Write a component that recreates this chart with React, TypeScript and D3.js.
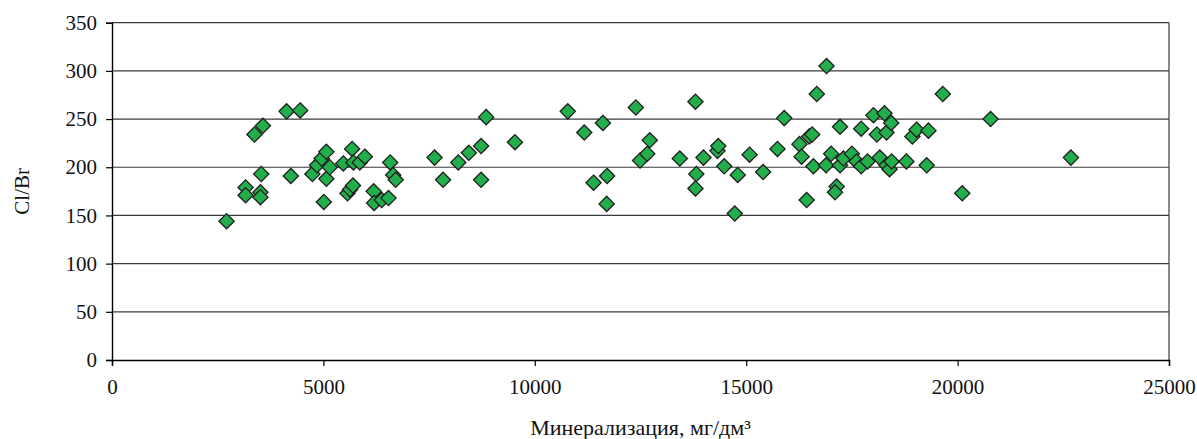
import { useEffect, useRef } from "react";
import * as d3 from "d3";

// Mineralization (mg/dm3) and Cl/Br ratio
const mineralization = [
  2710, 3160, 3160, 3370, 3510, 3510, 3530, 3570, 4130, 4230, 4450, 4740, 4850, 4960, 5010,
  5070, 5070, 5150, 5470, 5570, 5630, 5700, 5680, 5710, 5860, 5980, 6190, 6200, 6380, 6540,
  6580, 6650, 6710, 7630, 7830, 8190, 8440, 8730, 8730, 8850, 9530, 10780, 11170, 11390,
  11610, 11710, 11700, 12390, 12490, 12660, 12720, 13430, 13800, 13820, 13800, 13990, 14320,
  14340, 14480, 14800, 14730, 15080, 15400, 15740, 15900, 16260, 16310, 16430, 16490, 16560,
  16590, 16670, 16900, 16890, 17010, 17140, 17100, 17220, 17220, 17300, 17500, 17610, 17720,
  17720, 17870, 18010, 18090, 18160, 18270, 18320, 18320, 18390, 18440, 18430, 18790, 18930,
  19030, 19310, 19270, 19650, 20110, 20780, 22680,
];
const clBr = [
  144, 179, 171, 234, 174, 169, 193, 243, 258, 191, 259, 193, 202, 209, 164,
  216, 188, 200, 204, 173, 177, 181, 219, 205, 205, 211, 175, 163, 166, 168,
  205, 192, 187, 210, 187, 205, 215, 222, 187, 252, 226, 258, 236, 184,
  246, 191, 162, 262, 207, 214, 228, 209, 268, 193, 178, 210, 217,
  222, 201, 192, 152, 213, 195, 219, 251, 224, 211, 166, 232, 234,
  201, 276, 305, 202, 214, 180, 174, 242, 202, 209, 214, 206, 240,
  201, 206, 254, 234, 210, 256, 236, 202, 198, 206, 246, 206, 232,
  239, 238, 202, 276, 173, 250, 210,
];

const xTicks = [0, 5000, 10000, 15000, 20000, 25000];
const yTicks = [0, 50, 100, 150, 200, 250, 300, 350];

const xTitle = "Минерализация, мг/дм³";
const yTitle = "Cl/Br";

export default function App() {
  const svgRef = useRef<SVGSVGElement | null>(null);

  const width = 1197;
  const height = 439;
  const margin = { top: 22.7, right: 28, bottom: 79, left: 112 };
  const innerWidth = width - margin.left - margin.right;
  const innerHeight = height - margin.top - margin.bottom;

  useEffect(() => {
    const svgEl = svgRef.current;
    if (!svgEl) return;

    const root = d3.select(svgEl);
    root.selectAll("*").remove();

    const g = root
      .append("g")
      .attr("transform", `translate(${margin.left},${margin.top})`);

    const xScale = d3.scaleLinear().domain([0, 25000]).range([0, innerWidth]);
    const yScale = d3.scaleLinear().domain([0, 350]).range([innerHeight, 0]);

    const font = "'Liberation Serif', 'Times New Roman', serif";

    // Grid
    g.append("g")
      .selectAll("line")
      .data(yTicks.filter((t) => t > 0))
      .join("line")
      .attr("x1", 0)
      .attr("x2", innerWidth)
      .attr("y1", (d) => yScale(d))
      .attr("y2", (d) => yScale(d))
      .attr("stroke", "#3a3a3a")
      .attr("stroke-width", 1.2);

    // Right border of plot area
    g.append("line")
      .attr("x1", innerWidth)
      .attr("x2", innerWidth)
      .attr("y1", 0)
      .attr("y2", innerHeight)
      .attr("stroke", "#3a3a3a")
      .attr("stroke-width", 1.2);

    // Axes
    const yAxis = g
      .append("g")
      .call(d3.axisLeft(yScale).tickValues(yTicks).tickSize(6).tickPadding(9));
    const xAxis = g
      .append("g")
      .attr("transform", `translate(0,${innerHeight})`)
      .call(d3.axisBottom(xScale).tickValues(xTicks).tickSize(6).tickPadding(13).tickFormat(d3.format("d")));

    [xAxis, yAxis].forEach((axis) => {
      axis.select(".domain").attr("stroke", "#000").attr("stroke-width", 1.4);
      axis.selectAll(".tick line").attr("stroke", "#000").attr("stroke-width", 1.2);
      axis
        .selectAll("text")
        .attr("fill", "#111")
        .attr("font-family", font)
        .attr("font-size", 21);
    });

    // Axis titles
    g.append("text")
      .attr("x", innerWidth / 2)
      .attr("y", innerHeight + 75)
      .attr("text-anchor", "middle")
      .attr("fill", "#111")
      .attr("font-family", font)
      .attr("font-size", 22)
      .text(xTitle);

    g.append("text")
      .attr("transform", "rotate(-90)")
      .attr("x", -innerHeight / 2)
      .attr("y", -83)
      .attr("text-anchor", "middle")
      .attr("fill", "#111")
      .attr("font-family", font)
      .attr("font-size", 21)
      .text(yTitle);

    // Points (diamonds)
    const points = mineralization.map((x, i) => ({ x, y: clBr[i] }));
    const r = 7.6;
    g.append("g")
      .selectAll("path")
      .data(points)
      .join("path")
      .attr("transform", (d) => `translate(${xScale(d.x)},${yScale(d.y)})`)
      .attr("d", `M0,${-r}L${r},0L0,${r}L${-r},0Z`)
      .attr("fill", "#22AE4B")
      .attr("stroke", "#1e1e1e")
      .attr("stroke-width", 1.3);
  }, []);

  return (
    <div style={{ position: "absolute", left: 0, top: 0 }}>
      <svg ref={svgRef} width={width} height={height} style={{ display: "block", background: "#fff" }} />
    </div>
  );
}
